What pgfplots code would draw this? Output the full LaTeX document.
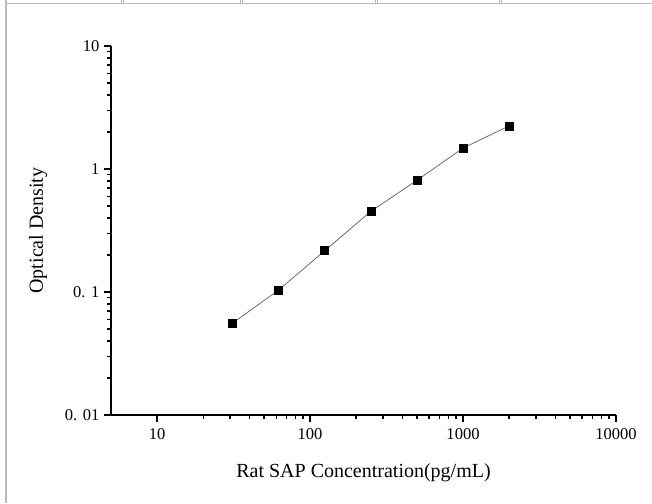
\documentclass[border=0pt]{standalone}
\usepackage{pgfplots}
\pgfplotsset{compat=1.18}
\usepackage{fontspec}
\setmainfont{Liberation Serif}
\definecolor{framegray}{HTML}{BBBBBB}
\begin{document}
\begin{tikzpicture}
\useasboundingbox (0,0) rectangle (489pt,-377.25pt);
% screenshot frame
\begin{scope}[x=0.75pt,y=-0.75pt,framegray,line width=1.1pt]
\draw (5,3.6) -- (652,3.6);
\draw (6,0) -- (6,503);
\foreach \xx in {121.7,123.7,240.7,242.7,375.3,377.7,499.3,501.3}{
  \draw[line width=0.8pt] (\xx,0) -- (\xx,3);
}
\end{scope}
\begin{axis}[
  at={(83.25pt,-311.25pt)}, anchor=south west,
  scale only axis, width=378.75pt, height=276.75pt,
  xmode=log, ymode=log,
  xmin=5, xmax=10000, ymin=0.01, ymax=10,
  axis x line*=bottom, axis y line*=left,
  axis line style={line width=0.9pt},
  tick align=outside,
  major tick length=5.25pt, minor tick length=3pt,
  every tick/.style={black, line width=0.9pt},
  xtick={10,100,1000,10000},
  xticklabels={10,100,1000,10000},
  ytick={0.01,0.1,1,10},
  yticklabels={0. 01,0. 1,1,10},
  ticklabel style={font=\fontsize{12.4}{14}\selectfont},
  xticklabel style={yshift=-1.5pt},
  /pgf/number format/assume math mode=true,
  xlabel={Rat SAP Concentration(pg/mL)},
  ylabel={Optical Density},
  label style={font=\fontsize{15}{18}\selectfont},
  xlabel style={at={(axis description cs:0.5,-0.168)}, anchor=base},
  ylabel style={at={(axis description cs:-0.1446,0.5)}, anchor=center},
  clip=false,
]
\addplot[color=gray!85!black, line width=0.6pt, mark=square*, mark size=3pt,
  mark options={black, fill=black}]
  coordinates {
  (31.25,0.056) (62.5,0.104) (125,0.217) (250,0.453) (500,0.809) (1000,1.48) (2000,2.24)
  };
\end{axis}
\end{tikzpicture}
\end{document}
